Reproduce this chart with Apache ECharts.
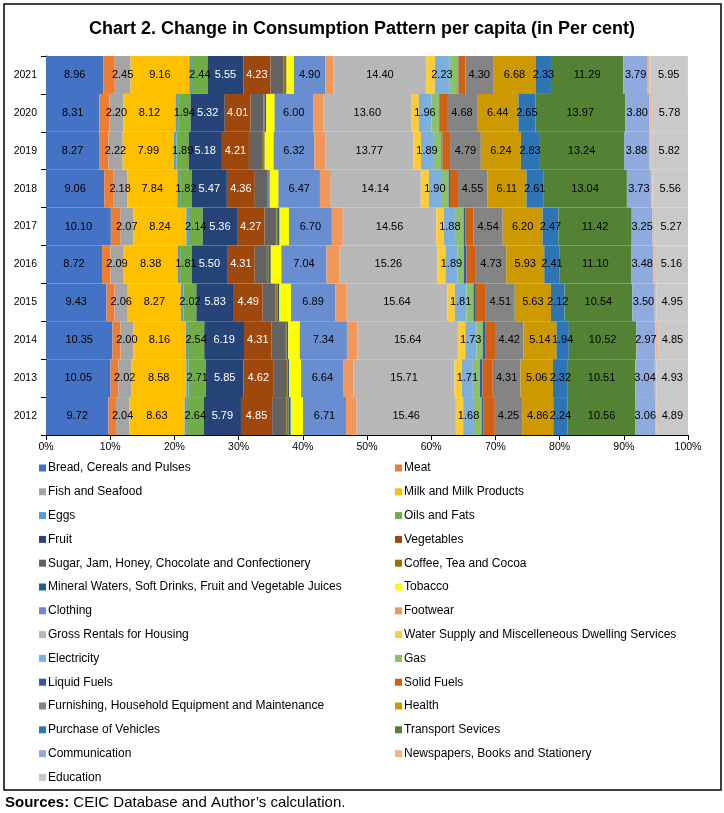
<!DOCTYPE html>
<html>
<head>
<meta charset="utf-8">
<script src="https://cdn.jsdelivr.net/npm/echarts@6/dist/echarts.min.js"></script>
<style>
html,body{margin:0;padding:0;background:#fff;}
#chart{width:724px;height:813px;}
</style>
</head>
<body>
<div id="chart"></div>
<script>
// Years (bottom to top)
const years = ['2012','2013','2014','2015','2016','2017','2018','2019','2020','2021'];
const xTicks = [0,10,20,30,40,50,60,70,80,90,100];

// Series values, 2012 -> 2021 (per cent)
const bread        = [9.72, 10.05, 10.35, 9.43, 8.72, 10.10, 9.06, 8.27, 8.31, 8.96];
const meat         = [1.20, 1.20, 1.25, 1.25, 1.30, 1.45, 1.40, 1.45, 1.55, 1.75];
const fish         = [2.04, 2.02, 2.00, 2.06, 2.09, 2.07, 2.18, 2.22, 2.20, 2.45];
const milk         = [8.63, 8.58, 8.16, 8.27, 8.38, 8.24, 7.84, 7.99, 8.12, 9.16];
const eggs         = [0.35, 0.35, 0.35, 0.40, 0.40, 0.40, 0.40, 0.40, 0.40, 0.42];
const oils         = [2.64, 2.71, 2.54, 2.02, 1.81, 2.14, 1.82, 1.89, 1.94, 2.44];
const fruit        = [5.79, 5.85, 6.19, 5.83, 5.50, 5.36, 5.47, 5.18, 5.32, 5.55];
const vegetables   = [4.85, 4.62, 4.31, 4.49, 4.31, 4.27, 4.36, 4.21, 4.01, 4.23];
const sugar        = [2.20, 2.00, 2.08, 2.00, 1.90, 1.85, 1.92, 2.05, 2.00, 2.05];
const coffee       = [0.35, 0.25, 0.25, 0.30, 0.30, 0.25, 0.20, 0.20, 0.20, 0.25];
const mineral      = [0.35, 0.25, 0.25, 0.30, 0.30, 0.25, 0.20, 0.20, 0.25, 0.20];
const tobacco      = [1.90, 1.85, 1.80, 1.80, 1.65, 1.45, 1.35, 1.40, 1.30, 1.15];
const clothing     = [6.71, 6.64, 7.34, 6.89, 7.04, 6.70, 6.47, 6.32, 6.00, 4.90];
const footwear     = [1.65, 1.55, 1.65, 1.80, 2.00, 1.70, 1.56, 1.70, 1.65, 1.30];
const rentals      = [15.46, 15.71, 15.64, 15.64, 15.26, 14.56, 14.14, 13.77, 13.60, 14.40];
const water        = [1.14, 1.15, 1.14, 1.20, 1.25, 1.18, 1.25, 1.15, 1.20, 1.35];
const electricity  = [1.68, 1.71, 1.73, 1.81, 1.89, 1.88, 1.90, 1.89, 1.96, 2.23];
const gas          = [1.20, 1.10, 1.00, 1.10, 1.00, 1.20, 1.20, 1.30, 1.20, 1.35];
const liquidFuels  = [0.30, 0.40, 0.36, 0.36, 0.40, 0.25, 0.20, 0.15, 0.10, 0.10];
const solidFuels   = [1.75, 1.60, 1.55, 1.56, 1.45, 1.30, 1.25, 1.20, 1.15, 1.10];
const furnishing   = [4.25, 4.31, 4.42, 4.51, 4.73, 4.54, 4.55, 4.79, 4.68, 4.30];
const health       = [4.86, 5.06, 5.14, 5.63, 5.93, 6.20, 6.11, 6.24, 6.44, 6.68];
const vehicles     = [2.24, 2.32, 1.94, 2.12, 2.41, 2.47, 2.61, 2.83, 2.65, 2.33];
const transport    = [10.56, 10.51, 10.52, 10.54, 11.10, 11.42, 13.04, 13.24, 13.97, 11.29];
const communication= [3.06, 3.04, 2.97, 3.50, 3.48, 3.25, 3.73, 3.88, 3.80, 3.79];
const newspapers   = [0.25, 0.25, 0.25, 0.25, 0.25, 0.25, 0.25, 0.25, 0.25, 0.30];
const education    = [4.89, 4.93, 4.85, 4.95, 5.16, 5.27, 5.56, 5.82, 5.78, 5.95];

// [name, data, colour, showLabel, labelColour]
const seriesDefs = [
  ['Bread, Cereals and Pulses', bread, '#4472C4', true, '#000'],
  ['Meat', meat, '#ED7D31', false],
  ['Fish and Seafood', fish, '#A5A5A5', true, '#000'],
  ['Milk and Milk Products', milk, '#FFC000', true, '#000'],
  ['Eggs', eggs, '#5B9BD5', false],
  ['Oils and Fats', oils, '#70AD47', true, '#000'],
  ['Fruit', fruit, '#264478', true, '#fff'],
  ['Vegetables', vegetables, '#9E480E', true, '#fff'],
  ['Sugar, Jam, Honey, Chocolate and Confectionery', sugar, '#636363', false],
  ['Coffee, Tea and Cocoa', coffee, '#997300', false],
  ['Mineral Waters, Soft Drinks, Fruit and Vegetable Juices', mineral, '#255E91', false],
  ['Tobacco', tobacco, '#FFFF00', false],
  ['Clothing', clothing, '#698ED0', true, '#000'],
  ['Footwear', footwear, '#F1975A', false],
  ['Gross Rentals for Housing', rentals, '#B7B7B7', true, '#000'],
  ['Water Supply and Miscelleneous Dwelling Services', water, '#FFCD33', false],
  ['Electricity', electricity, '#7CAFDD', true, '#000'],
  ['Gas', gas, '#8CC168', false],
  ['Liquid Fuels', liquidFuels, '#335AA1', false],
  ['Solid Fuels', solidFuels, '#D26012', false],
  ['Furnishing, Household Equipment and Maintenance', furnishing, '#848484', true, '#000'],
  ['Health', health, '#CC9A00', true, '#000'],
  ['Purchase of Vehicles', vehicles, '#2E75B6', true, '#000'],
  ['Transport Sevices', transport, '#548235', true, '#000'],
  ['Communication', communication, '#8FAADC', true, '#000'],
  ['Newspapers, Books and Stationery', newspapers, '#F4B183', false],
  ['Education', education, '#C9C9C9', true, '#000']
];

const FONT = '"Liberation Sans", Arial, sans-serif';

const series = seriesDefs.map(d => ({
  name: d[0],
  type: 'bar',
  stack: 'total',
  barCategoryGap: '0%',
  data: d[1],
  itemStyle: { color: d[2] },
  label: {
    show: d[3],
    position: 'inside',
    color: d[4] || '#000',
    fontFamily: FONT,
    fontSize: 11,
    formatter: p => p.value.toFixed(2)
  },
  emphasis: { disabled: true }
}));

const names = seriesDefs.map(d => d[0]);
const leftNames = names.filter((n, i) => i % 2 === 0);
const rightNames = names.filter((n, i) => i % 2 === 1);

const legendCommon = {
  orient: 'vertical',
  top: 456,
  icon: 'rect',
  itemWidth: 7,
  itemHeight: 7,
  itemGap: 9.8,
  selectedMode: false,
  textStyle: { fontFamily: FONT, fontSize: 12, color: '#000', lineHeight: 14, padding: [0, 0, 0, -3] }
};

const chart = echarts.init(document.getElementById('chart'), null, { renderer: 'canvas' });
chart.setOption({
  animation: false,
  backgroundColor: '#fff',
  title: {
    text: 'Chart 2. Change in Consumption Pattern per capita (in Per cent)',
    left: 'center',
    top: 15,
    textStyle: { fontFamily: FONT, fontSize: 18, fontWeight: 'bold', color: '#000' }
  },
  grid: { left: 46, right: 36, top: 56, bottom: 378, containLabel: false },
  xAxis: {
    type: 'value',
    min: 0,
    max: 100,
    interval: 10,
    axisLine: { show: true, lineStyle: { color: '#000', width: 1 } },
    axisTick: { show: true, length: 5, lineStyle: { color: '#000' } },
    splitLine: { show: false },
    axisLabel: {
      fontFamily: FONT, fontSize: 10.5, color: '#000', margin: 7,
      formatter: v => xTicks.indexOf(v) >= 0 ? v + '%' : ''
    }
  },
  yAxis: {
    type: 'category',
    data: years,
    axisLine: { show: true, lineStyle: { color: '#000', width: 1 } },
    axisTick: { show: true, length: 5, lineStyle: { color: '#000' } },
    axisLabel: { fontFamily: FONT, fontSize: 10.5, color: '#000', margin: 9 }
  },
  legend: [
    Object.assign({}, legendCommon, { left: 34, data: leftNames }),
    Object.assign({}, legendCommon, { left: 390, data: rightNames })
  ],
  graphic: [
    {
      type: 'rect',
      shape: { x: 4, y: 4, width: 717, height: 786 },
      style: { fill: 'none', stroke: '#000', lineWidth: 1.5 },
      silent: true
    },
    {
      type: 'text',
      left: 5,
      top: 795,
      style: {
        text: '{b|Sources:} CEIC Database and Author’s calculation.',
        rich: {
          b: { fontFamily: FONT, fontSize: 15, fontWeight: 'bold', fill: '#000' }
        },
        font: '15px ' + FONT,
        fill: '#000'
      }
    }
  ],
  series: series
});
</script>
</body>
</html>
